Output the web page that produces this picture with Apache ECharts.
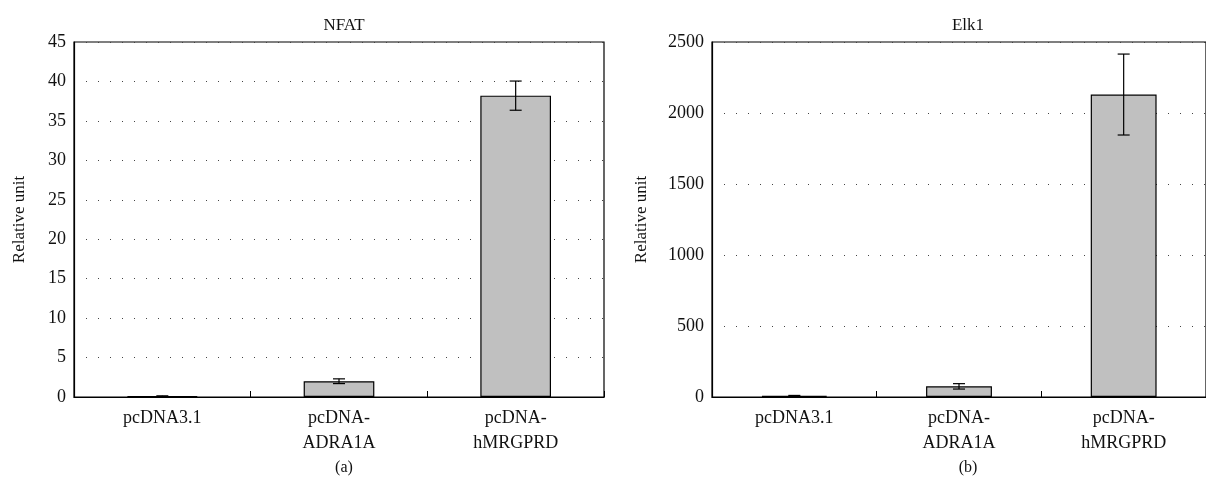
<!DOCTYPE html>
<html>
<head>
<meta charset="utf-8">
<script src="https://cdn.jsdelivr.net/npm/echarts@6/dist/echarts.min.js"></script>
<style>
  html, body { margin: 0; padding: 0; background: #fff; }
  #chart { width: 1206px; height: 493px; }
</style>
</head>
<body>
<div id="chart"></div>
<script>
// categories shared by both panels
var categories = ['pcDNA3.1', 'pcDNA-\nADRA1A', 'pcDNA-\nhMRGPRD'];

// NFAT panel (a)
var nfatValues = [0.1, 2.0, 38.2];
var nfatErrors = [0.05, 0.3, 1.85];

// Elk1 panel (b)
var elkValues = [8, 75, 2130];
var elkErrors = [3, 19, 285];

var FONT = '"Liberation Serif", "DejaVu Serif", serif';

function errData(vals, errs) {
  return vals.map(function (v, i) {
    return [i, v - errs[i], v + errs[i]];
  });
}

function renderError(params, api) {
  var x = api.value(0);
  var lo = api.coord([x, api.value(1)]);
  var hi = api.coord([x, api.value(2)]);
  var half = 6;
  var style = {stroke: '#000', lineWidth: 1.2};
  return {
    type: 'group',
    children: [
      {type: 'line', shape: {x1: lo[0], y1: lo[1], x2: hi[0], y2: hi[1]}, style: style},
      {type: 'line', shape: {x1: lo[0] - half, y1: lo[1], x2: lo[0] + half, y2: lo[1]}, style: style},
      {type: 'line', shape: {x1: hi[0] - half, y1: hi[1], x2: hi[0] + half, y2: hi[1]}, style: style}
    ]
  };
}

function xAxis(gi) {
  return {
    type: 'category',
    gridIndex: gi,
    data: categories,
    axisLine: {lineStyle: {color: '#000', width: 1.2}},
    axisTick: {show: true, inside: true, length: 6, lineStyle: {color: '#000'}},
    axisLabel: {color: '#111', fontFamily: FONT, fontSize: 18, lineHeight: 25, margin: 9},
    splitLine: {show: false}
  };
}

function yAxis(gi, max, interval, gap) {
  return {
    type: 'value',
    gridIndex: gi,
    min: 0,
    max: max,
    interval: interval,
    name: 'Relative unit',
    nameLocation: 'middle',
    nameGap: gap,
    nameTextStyle: {color: '#111', fontFamily: FONT, fontSize: 17},
    axisLine: {show: true, lineStyle: {color: '#000', width: 1.2}},
    axisTick: {show: false},
    axisLabel: {color: '#111', fontFamily: FONT, fontSize: 18, margin: 8,
      formatter: function (v) { return String(v); }},
    splitLine: {show: true, lineStyle: {color: '#444', width: 1, type: [1, 11]}}
  };
}

var chart = echarts.init(document.getElementById('chart'));
chart.setOption({
  animation: false,
  backgroundColor: '#fff',
  title: [
    {text: 'NFAT', left: 339, top: 12, textAlign: 'center',
      textStyle: {fontFamily: FONT, fontSize: 17, fontWeight: 'normal', color: '#111'}},
    {text: 'Elk1', left: 963, top: 12, textAlign: 'center',
      textStyle: {fontFamily: FONT, fontSize: 17, fontWeight: 'normal', color: '#111'}},
    {text: '(a)', left: 339, top: 455, textAlign: 'center',
      textStyle: {fontFamily: FONT, fontSize: 16, fontWeight: 'normal', color: '#111'}},
    {text: '(b)', left: 963, top: 455, textAlign: 'center',
      textStyle: {fontFamily: FONT, fontSize: 16, fontWeight: 'normal', color: '#111'}}
  ],
  grid: [
    {left: 74, top: 42, width: 530, height: 355, show: true, borderColor: '#000', borderWidth: 1.2},
    {left: 712, top: 42, width: 502, height: 355, show: true, borderColor: '#000', borderWidth: 1.2}
  ],
  xAxis: [xAxis(0), xAxis(1)],
  yAxis: [yAxis(0, 45, 5, 46), yAxis(1, 2500, 500, 62)],
  series: [
    {type: 'bar', xAxisIndex: 0, yAxisIndex: 0, data: nfatValues, barWidth: '40%',
      itemStyle: {color: '#c0c0c0', borderColor: '#000', borderWidth: 1.2}},
    {type: 'custom', xAxisIndex: 0, yAxisIndex: 0, data: errData(nfatValues, nfatErrors),
      renderItem: renderError, encode: {x: 0, y: [1, 2]}, z: 5},
    {type: 'bar', xAxisIndex: 1, yAxisIndex: 1, data: elkValues, barWidth: '40%',
      itemStyle: {color: '#c0c0c0', borderColor: '#000', borderWidth: 1.2}},
    {type: 'custom', xAxisIndex: 1, yAxisIndex: 1, data: errData(elkValues, elkErrors),
      renderItem: renderError, encode: {x: 0, y: [1, 2]}, z: 5}
  ]
});
</script>
</body>
</html>
